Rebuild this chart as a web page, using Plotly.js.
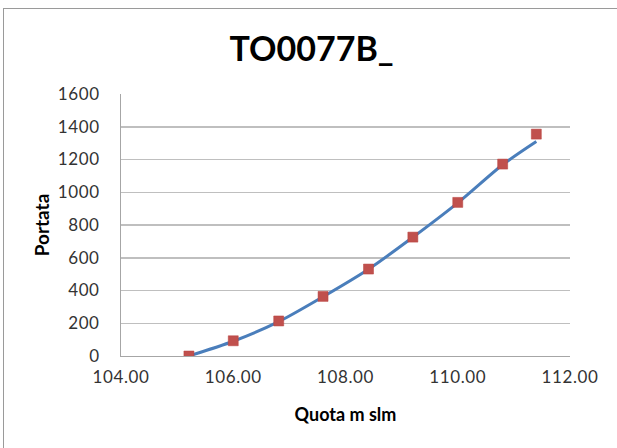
<!DOCTYPE html>
<html>
<head>
<meta charset="utf-8">
<script src="https://cdn.plot.ly/plotly-3.0.1.min.js"></script>
<style>
html,body{margin:0;padding:0;background:#fff;}
#wrap{position:relative;width:617px;height:448px;overflow:hidden;}
#chart{position:absolute;left:0;top:0;width:617px;height:448px;}
#frame{position:absolute;left:3px;top:8px;width:700px;height:600px;border:1px solid #9a9a9a;pointer-events:none;}
.xtick text, .ytick text{letter-spacing:0.6px;}
</style>
</head>
<body>
<div id="wrap"><div id="chart"></div><div id="frame"></div></div>
<script>
// Data
const quota = [105.21, 106.00, 106.81, 107.60, 108.41, 109.20, 110.00, 110.80, 111.40];
const portataPoints = [0, 93, 214, 364, 531, 726, 938, 1172, 1355];
const portataCurve = [0, 90, 210, 362, 530, 725, 935, 1168, 1310];
const chartTitle = 'TO0077B_';
const xTitle = 'Quota m slm';
const yTitle = 'Portata';

const traces = [
  {
    x: quota, y: portataCurve, type: 'scatter', mode: 'lines',
    line: {color: '#4A7EBB', width: 3, shape: 'spline', smoothing: 0.8},
    hoverinfo: 'skip', showlegend: false
  },
  {
    x: quota, y: portataPoints, type: 'scatter', mode: 'markers',
    marker: {symbol: 'square', size: 10, color: '#C0504D', line: {color: '#B9403D', width: 0.5}},
    showlegend: false
  }
];

const layout = {
  width: 617, height: 448,
  paper_bgcolor: 'rgba(0,0,0,0)', plot_bgcolor: '#fff',
  margin: {l: 121, r: 47, t: 94, b: 92},
  font: {family: 'Lato, "Open Sans", sans-serif', color: '#222'},
  title: {
    text: '<b>' + chartTitle + '</b>',
    font: {size: 34, family: 'Lato, sans-serif', color: '#000'},
    x: 0.505, xanchor: 'center', xref: 'container',
    y: 1 - 49/448, yanchor: 'middle', yref: 'container'
  },
  xaxis: {
    range: [104, 112], dtick: 2, tick0: 104, tickformat: '.2f',
    showgrid: false, zeroline: false,
    showline: true, linecolor: '#a6a6a6', linewidth: 1,
    ticks: '', ticklen: 0, ticklabelstandoff: 6,
    tickfont: {size: 17, color: '#333'},
    title: {text: '<b>' + xTitle + '</b>', font: {size: 18, color: '#000'}, standoff: 21},
    automargin: false
  },
  yaxis: {
    range: [0, 1600], dtick: 200, tick0: 0,
    showgrid: true, gridcolor: '#bfbfbf', gridwidth: 1.5, zeroline: false,
    showline: true, linecolor: '#a6a6a6', linewidth: 1,
    ticks: '', ticklen: 0, ticklabelstandoff: 17,
    tickfont: {size: 17, color: '#333'},
    title: {text: '<b>' + yTitle + '</b>', font: {size: 19, color: '#000'}, standoff: 3},
    automargin: false
  }
};

Plotly.newPlot('chart', traces, layout, {displayModeBar: false, staticPlot: true});
</script>
</body>
</html>
